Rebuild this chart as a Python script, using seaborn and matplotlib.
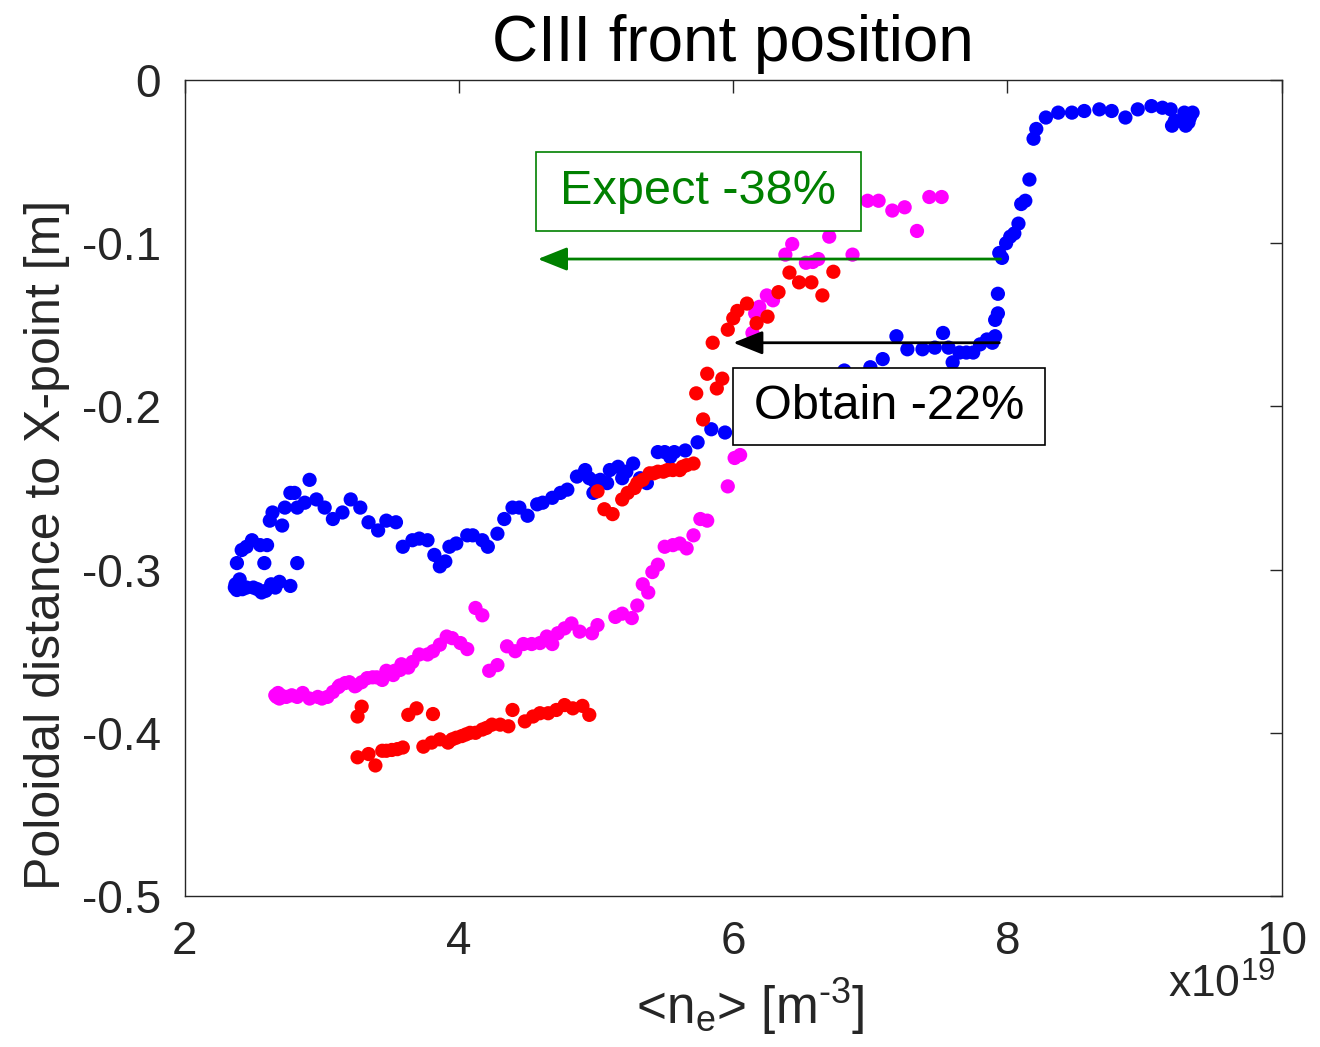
import numpy as np
import pandas as pd
import matplotlib
matplotlib.use("Agg")
import matplotlib.pyplot as plt
from matplotlib.patches import Rectangle
import seaborn as sns

# ---------------- data (x in units of 1e19 m^-3, y in m) ----------------
blue_x = [2.365, 2.38, 2.40, 2.45, 2.50, 2.56, 2.63, 2.69, 2.77, 2.37, 2.42, 2.53, 2.59, 2.66,
          2.38, 2.58, 2.82, 2.415, 2.45, 2.49, 2.55, 2.60,
          2.62, 2.64, 2.71, 2.73, 2.77, 2.80, 2.82, 2.875, 2.91, 2.96, 3.02, 3.08, 3.15, 3.21,
          3.28, 3.34, 3.41, 3.47, 3.54, 3.59, 3.66, 3.71, 3.77, 3.82, 3.86, 3.90, 3.93, 3.98,
          4.06, 4.10, 4.17, 4.21, 4.28, 4.33, 4.39, 4.44, 4.50, 4.57, 4.61, 4.68, 4.74, 4.79,
          4.86, 4.92, 4.95, 4.99, 5.03, 5.08, 4.98, 5.10, 5.16, 5.19, 5.22, 5.27, 5.32, 5.37,
          5.45, 5.50, 5.54, 5.57, 5.65, 5.74, 5.84, 5.94, 6.08, 6.27, 6.45, 6.63,
          6.81, 7.00, 7.09, 7.19, 7.27, 7.38, 7.47, 7.53, 7.57, 7.60, 7.65, 7.70, 7.75, 7.80,
          7.85, 7.89, 7.91, 7.91, 7.93, 7.93, 7.94, 7.96, 7.99, 8.02, 8.05, 8.08, 8.10, 8.13,
          8.16, 8.19, 8.21, 8.28, 8.37, 8.47, 8.56, 8.67, 8.76, 8.86, 8.95, 9.05, 9.13, 9.19,
          9.20, 9.26, 9.29, 9.32, 9.33, 9.35, 9.22, 9.30]
blue_y = [-0.311, -0.3125, -0.306, -0.311, -0.311, -0.314, -0.309, -0.3075, -0.310, -0.309, -0.312, -0.312, -0.313, -0.311,
          -0.296, -0.296, -0.296, -0.288, -0.286, -0.282, -0.285, -0.285,
          -0.270, -0.265, -0.273, -0.262, -0.253, -0.253, -0.262, -0.259, -0.245, -0.257, -0.262, -0.269, -0.265, -0.257,
          -0.262, -0.271, -0.276, -0.270, -0.271, -0.286, -0.282, -0.281, -0.282, -0.291, -0.298, -0.295, -0.286, -0.284,
          -0.279, -0.279, -0.282, -0.286, -0.278, -0.269, -0.262, -0.262, -0.267, -0.260, -0.259, -0.256, -0.253, -0.251,
          -0.243, -0.239, -0.244, -0.246, -0.245, -0.247, -0.253, -0.239, -0.237, -0.244, -0.240, -0.235, -0.244, -0.247,
          -0.228, -0.228, -0.231, -0.228, -0.227, -0.222, -0.214, -0.216, -0.211, -0.205, -0.196, -0.187,
          -0.178, -0.176, -0.171, -0.157, -0.165, -0.165, -0.164, -0.155, -0.164, -0.173, -0.167, -0.167, -0.167, -0.162,
          -0.159, -0.161, -0.157, -0.147, -0.143, -0.131, -0.106, -0.109, -0.100, -0.096, -0.094, -0.088, -0.076, -0.074,
          -0.061, -0.036, -0.030, -0.023, -0.020, -0.020, -0.019, -0.018, -0.019, -0.023, -0.018, -0.016, -0.017, -0.018,
          -0.028, -0.025, -0.020, -0.026, -0.023, -0.020, -0.025, -0.028]

magenta_x = [2.66, 2.68, 2.69, 2.67, 2.70, 2.74, 2.78, 2.82, 2.86, 2.91, 2.97, 3.00, 3.04, 3.08,
             3.12, 3.13, 3.17, 3.20, 3.24, 3.25, 3.29, 3.33, 3.37, 3.40, 3.44, 3.47, 3.52, 3.53,
             3.57, 3.58, 3.63, 3.66, 3.71, 3.77, 3.81, 3.86, 3.91, 3.95, 4.01, 4.06, 4.12, 4.17,
             4.22, 4.28, 4.35, 4.41, 4.47, 4.53, 4.59, 4.64, 4.68, 4.72, 4.77, 4.82, 4.88, 4.97,
             5.01, 5.14, 5.19, 5.26, 5.30, 5.34, 5.38, 5.41, 5.45, 5.50, 5.56, 5.61, 5.66, 5.71,
             5.76, 5.81, 5.96, 6.01, 6.05, 6.14, 6.16, 6.19, 6.245, 6.29, 6.38, 6.43, 6.53, 6.58,
             6.62, 6.70, 6.81, 6.87, 6.98, 7.06, 7.16, 7.25, 7.34, 7.43, 7.52]
magenta_y = [-0.377, -0.3756, -0.379, -0.378, -0.377, -0.378, -0.377, -0.378, -0.3756, -0.379, -0.378, -0.379, -0.378, -0.375,
             -0.372, -0.371, -0.3695, -0.369, -0.3715, -0.371, -0.369, -0.3665, -0.366, -0.366, -0.3676, -0.362, -0.3646, -0.362,
             -0.3615, -0.358, -0.360, -0.3566, -0.352, -0.352, -0.350, -0.346, -0.341, -0.342, -0.345, -0.3487, -0.3235, -0.328,
             -0.362, -0.3585, -0.347, -0.350, -0.3456, -0.3456, -0.345, -0.341, -0.3456, -0.339, -0.336, -0.333, -0.338, -0.339,
             -0.334, -0.329, -0.327, -0.3297, -0.322, -0.309, -0.314, -0.3015, -0.297, -0.286, -0.285, -0.284, -0.287, -0.279,
             -0.269, -0.270, -0.249, -0.2316, -0.2298, -0.155, -0.143, -0.139, -0.132, -0.135, -0.107, -0.1005, -0.112, -0.1115,
             -0.1097, -0.096, -0.083, -0.107, -0.074, -0.074, -0.080, -0.078, -0.0925, -0.0717, -0.0717]

red_x = [3.29, 3.26, 3.69, 3.63, 3.81, 4.39, 4.48, 4.54, 4.59, 4.65, 4.71, 4.77, 4.83, 4.90, 4.95,
         3.26, 3.34, 3.39, 3.44, 3.47, 3.51, 3.55, 3.59, 3.74, 3.80, 3.86, 3.92, 3.95, 3.98, 4.02,
         4.05, 4.08, 4.12, 4.17, 4.20, 4.24, 4.30, 4.36,
         5.01, 5.06, 5.12, 5.19, 5.23, 5.28, 5.30, 5.34, 5.39, 5.42, 5.45, 5.49, 5.52, 5.56,
         5.61, 5.63, 5.66, 5.71,
         5.78, 5.73, 5.81, 5.88, 5.92, 5.85, 5.96, 6.00, 6.03, 6.10, 6.17, 6.25, 6.33, 6.41,
         6.48, 6.57, 6.65, 6.73]
red_y = [-0.384, -0.390, -0.385, -0.389, -0.3885, -0.386, -0.393, -0.390, -0.388, -0.388, -0.386, -0.383, -0.385, -0.3835, -0.389,
         -0.415, -0.413, -0.420, -0.411, -0.411, -0.4105, -0.410, -0.409, -0.4085, -0.406, -0.404, -0.406, -0.404, -0.403, -0.402,
         -0.401, -0.400, -0.400, -0.398, -0.397, -0.395, -0.395, -0.396,
         -0.252, -0.263, -0.266, -0.257, -0.253, -0.250, -0.247, -0.245, -0.241, -0.241, -0.240, -0.240, -0.239, -0.239,
         -0.239, -0.237, -0.236, -0.235,
         -0.208, -0.192, -0.180, -0.189, -0.183, -0.161, -0.153, -0.146, -0.1415, -0.137, -0.149, -0.145, -0.130, -0.118,
         -0.124, -0.124, -0.132, -0.1175]

x_ticks = [2, 4, 6, 8, 10]
x_tick_labels = ["2", "4", "6", "8", "10"]
y_ticks = [0, -0.1, -0.2, -0.3, -0.4, -0.5]
y_tick_labels = ["0", "-0.1", "-0.2", "-0.3", "-0.4", "-0.5"]

title_text = "CIII front position"
xlabel_text = r"<n$_{e}$> [m$^{\text{-3}}$]"
ylabel_text = "Poloidal distance to X-point [m]"
scale_text = r"x10$^{19}$"
expect_text = "Expect -38%"
obtain_text = "Obtain -22%"
expect_arrow = (7.95, 4.575, -0.1097)   # from x, to x, y
obtain_arrow = (7.94, 6.00, -0.161)

# ---------------- figure ----------------
sns.set_style("white")
plt.rcParams["font.family"] = ["Liberation Sans", "DejaVu Sans"]
plt.rcParams["mathtext.default"] = "regular"
plt.rcParams["mathtext.fontset"] = "custom"
plt.rcParams["mathtext.rm"] = "Liberation Sans"
plt.rcParams["axes.unicode_minus"] = False

df = pd.DataFrame({
    "x": blue_x + magenta_x + red_x,
    "y": blue_y + magenta_y + red_y,
    "series": ["blue"] * len(blue_x) + ["magenta"] * len(magenta_x) + ["red"] * len(red_x),
})
palette = {"blue": "#0000ff", "magenta": "#ff00ff", "red": "#ff0000"}

fig = plt.figure(figsize=(13.2, 10.47), dpi=100)
ax = fig.add_axes([0.140, 0.1442, 0.831, 0.7794])

sns.scatterplot(data=df, x="x", y="y", hue="series", palette=palette, s=105,
                linewidth=0, legend=False, ax=ax, zorder=2)

ax.set_xlim(2, 10)
ax.set_ylim(-0.5, 0)
ax.set_xticks(x_ticks)
ax.set_xticklabels(x_tick_labels)
ax.set_yticks(y_ticks)
ax.set_yticklabels(y_tick_labels)

axcol = "#262626"
for sp in ax.spines.values():
    sp.set_color(axcol)
    sp.set_linewidth(1.0)
    sp.set_visible(True)
ax.tick_params(axis="both", direction="in", length=9, width=1.0, color=axcol,
               labelcolor=axcol, labelsize=33, top=True, right=True)
ax.tick_params(axis="x", pad=17)
ax.tick_params(axis="y", pad=17)

ax.set_title(title_text, fontsize=46, pad=14, color="black")
ax.set_xlabel(xlabel_text, fontsize=37, color=axcol)
ax.xaxis.set_label_coords(0.515, -0.098)
ax.set_ylabel(ylabel_text, fontsize=36, color=axcol)
ax.yaxis.set_label_coords(-0.105, 0.43)
ax.text(0.994, -0.109, scale_text, transform=ax.transAxes, ha="right", va="center",
        fontsize=32, color=axcol)

green = "#008000"
# arrows
ax.annotate("", xy=(expect_arrow[1], expect_arrow[2]), xytext=(expect_arrow[0], expect_arrow[2]),
            arrowprops=dict(arrowstyle="-|>,head_length=1.0,head_width=0.4", color=green, lw=2,
                            mutation_scale=18, shrinkA=0, shrinkB=0), zorder=4)
ax.annotate("", xy=(obtain_arrow[1], obtain_arrow[2]), xytext=(obtain_arrow[0], obtain_arrow[2]),
            arrowprops=dict(arrowstyle="-|>,head_length=1.0,head_width=0.4", color="black", lw=2,
                            mutation_scale=18, shrinkA=0, shrinkB=0), zorder=4)

# text boxes
ax.add_patch(Rectangle((4.560, -0.0925), 6.931 - 4.560, 0.0484, facecolor="white",
                       edgecolor=green, lw=1.2, zorder=5))
ax.text((4.560 + 6.931) / 2, -0.0683, expect_text, ha="center", va="center",
        fontsize=35, color=green, zorder=6)
ax.add_patch(Rectangle((5.997, -0.2237), 8.273 - 5.997, 0.0472, facecolor="white",
                       edgecolor="black", lw=1.2, zorder=5))
ax.text((5.997 + 8.273) / 2, -0.200, obtain_text, ha="center", va="center",
        fontsize=35, color="black", zorder=6)

fig.savefig("out.png", dpi=100, facecolor="white")
